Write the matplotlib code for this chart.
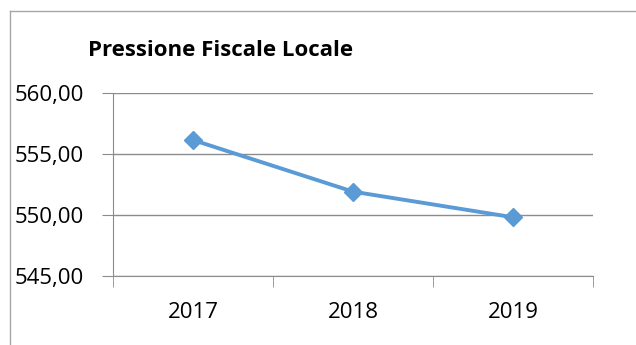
import numpy as np
import matplotlib
matplotlib.use("Agg")
import matplotlib.pyplot as plt
from matplotlib.lines import Line2D
from matplotlib.ticker import FuncFormatter, FixedLocator

# dati
anni = ["2017", "2018", "2019"]
pressione = [556.12, 551.89, 549.79]
y_ticks = [545, 550, 555, 560]

plt.rcParams['font.family'] = ['Open Sans', 'DejaVu Sans']

grigio = '#8c8c8c'
blu = '#5b9bd5'

W, H = 636, 345
fig = plt.figure(figsize=(W / 100, H / 100), dpi=100)

# bordo del grafico (solo sinistra e alto visibili)
fig.add_artist(Line2D([10 / W, 10 / W], [-0.1, 1 - 11 / H], color='#a6a6a6', lw=1))
fig.add_artist(Line2D([10 / W, 1.1], [1 - 11 / H, 1 - 11 / H], color='#a6a6a6', lw=1))

# area del grafico
ax = fig.add_axes([113 / W, (H - 275.7) / H, 480 / W, 183 / H])

x = np.arange(len(anni))
ax.plot(x, pressione, color=blu, lw=2.8, marker='D', markersize=9, zorder=3)

ax.set_xlim(-0.5, len(anni) - 0.5)
ax.set_ylim(y_ticks[0], y_ticks[-1])
ax.set_yticks(y_ticks)
ax.yaxis.set_major_formatter(FuncFormatter(lambda v, p: f"{v:.2f}".replace('.', ',')))
ax.set_xticks(x)
ax.set_xticklabels(anni)
ax.xaxis.set_minor_locator(FixedLocator(np.arange(len(anni) + 1) - 0.5))

ax.grid(axis='y', color=grigio, lw=1)
for s in ['top', 'right']:
    ax.spines[s].set_visible(False)
ax.spines['left'].set_color(grigio)
ax.spines['bottom'].set_color(grigio)

ax.tick_params(axis='y', length=8, color=grigio, labelsize=16, pad=13, direction='out')
ax.tick_params(axis='x', which='major', length=0, labelsize=16, pad=19)
ax.tick_params(axis='x', which='minor', length=8, color=grigio, direction='out')

fig.text(88 / W, 1 - 50 / H, "Pressione Fiscale Locale", fontsize=16, fontweight='bold',
         va='center', ha='left')

fig.savefig("out.png", dpi=100)
